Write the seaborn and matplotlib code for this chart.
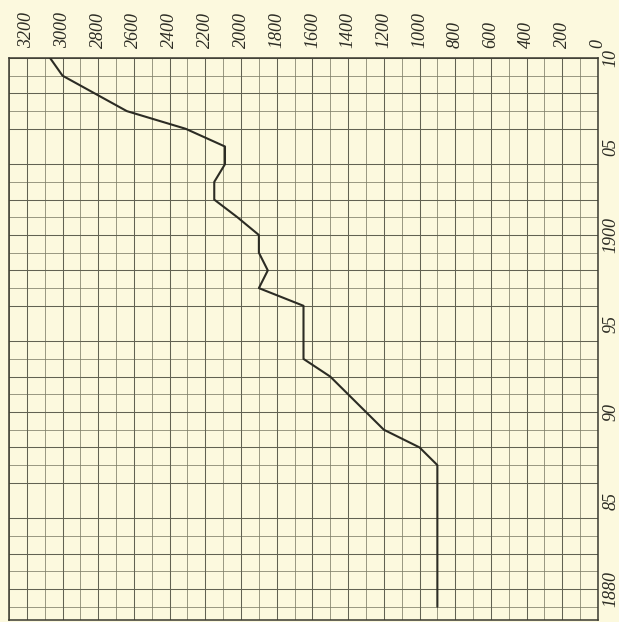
import numpy as np
import matplotlib
matplotlib.use("Agg")
import matplotlib.pyplot as plt
from matplotlib.ticker import MultipleLocator
import seaborn as sns

# values, newest year first
years = [1910, 1909, 1908, 1907, 1906, 1905, 1904, 1903, 1902, 1901, 1900,
         1899, 1898, 1897, 1896, 1895, 1894, 1893, 1892, 1891, 1890, 1889,
         1888, 1887, 1886, 1885, 1884, 1883, 1882, 1881, 1880, 1879]
values = [3070, 3000, 2820, 2640, 2310, 2090, 2090, 2150, 2150, 2020, 1900,
          1900, 1850, 1900, 1650, 1650, 1650, 1650, 1500, 1400, 1300, 1200,
          1000, 900, 900, 900, 900, 900, 900, 900, 900, 900]

value_ticks = list(range(0, 3201, 200))
value_labels = [str(v) for v in value_ticks]
year_ticks = [1880, 1885, 1890, 1895, 1900, 1905, 1910]
year_labels = ["1880", "85", "90", "95", "1900", "05", "10"]

paper = "#fcf9de"
ink = "#2c2c24"

sns.set_style("white")
plt.rcParams["font.family"] = ["Liberation Serif", "DejaVu Serif"]

fig = plt.figure(figsize=(6.19, 6.22), dpi=100, facecolor=paper)
ax = fig.add_axes([9 / 619, 2 / 622, 589 / 619, 562 / 622])
ax.set_facecolor(paper)

ax.set_xlim(3300, 0)
ax.set_ylim(1878.25, 1910)

# graph paper: thin line every unit, slightly heavier every second one
ax.xaxis.set_minor_locator(MultipleLocator(100))
ax.yaxis.set_minor_locator(MultipleLocator(1))
ax.grid(which="minor", color="#7e7e68", lw=0.55)
ax.grid(which="major", visible=False)
for v in np.arange(0, 3301, 200):
    ax.axvline(v, color="#626252", lw=0.75, zorder=1)
for y in np.arange(1880, 1911, 2):
    ax.axhline(y, color="#626252", lw=0.75, zorder=1)
ax.set_axisbelow(True)

sns.lineplot(x=values, y=years, sort=False, estimator=None, ax=ax,
             color=ink, lw=1.5, zorder=3)

ax.xaxis.tick_top()
ax.yaxis.tick_right()
ax.set_xticks(value_ticks)
ax.set_xticklabels(value_labels, rotation=90, style="italic", fontsize=13, color=ink)
ax.set_yticks(year_ticks)
ax.set_yticklabels(year_labels, rotation=90, style="italic", fontsize=13,
                   color=ink, va="center")
ax.tick_params(axis="both", which="both", length=0)
ax.tick_params(axis="x", pad=7)
ax.tick_params(axis="y", pad=3)
ax.set_xlabel("")
ax.set_ylabel("")

for s in ax.spines.values():
    s.set_visible(True)
    s.set_color("#3a3a30")
    s.set_linewidth(1.1)

fig.savefig("out.png", dpi=100, facecolor=paper)
